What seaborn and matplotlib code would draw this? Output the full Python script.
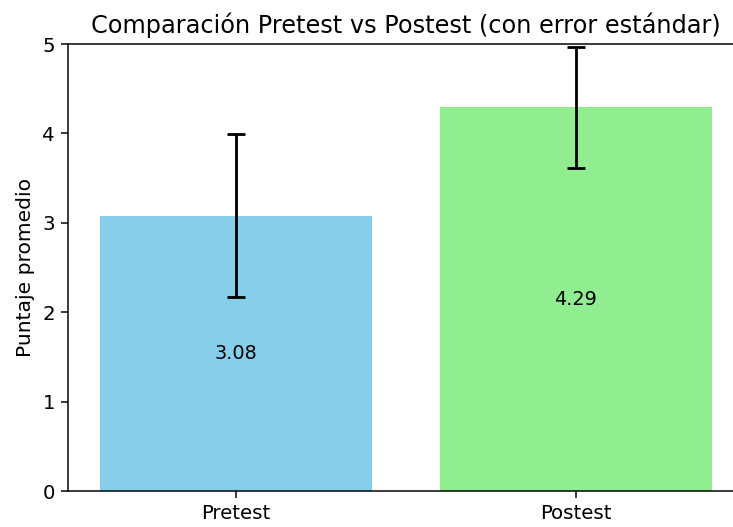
import pandas as pd
import seaborn as sns
import matplotlib.pyplot as plt

# valores
grupos = ['Pretest', 'Postest']
promedios = [3.08, 4.29]
errores = [0.91, 0.68]
colores = ['skyblue', 'lightgreen']

df = pd.DataFrame({'grupo': grupos, 'promedio': promedios})

fig = plt.figure(figsize=(733 / 135, 527 / 135), dpi=135)
ax = fig.add_axes([0.0928, 0.0683, 0.922, 0.8482])

sns.barplot(data=df, x='grupo', y='promedio', hue='grupo', palette=colores,
            width=0.8, saturation=1, legend=False, ax=ax)
ax.errorbar(range(len(grupos)), promedios, yerr=errores, fmt='none',
            ecolor='black', capsize=5, elinewidth=1.5, capthick=1.5)

for i, v in enumerate(promedios):
    ax.text(i, v / 2, f'{v:.2f}', ha='center', va='center', fontsize=10.3)

ax.set_ylim(0, 5)
ax.set_xlim(-0.494, 1.494)
ax.set_xlabel('')
ax.set_ylabel('Puntaje promedio', fontsize=10.8)
ax.set_title('Comparación Pretest vs Postest (con error estándar)', fontsize=12.8)
ax.tick_params(labelsize=10.5)
# el borde derecho queda fuera de la imagen original
ax.spines['right'].set_visible(False)

plt.savefig('out.png', dpi=135)
